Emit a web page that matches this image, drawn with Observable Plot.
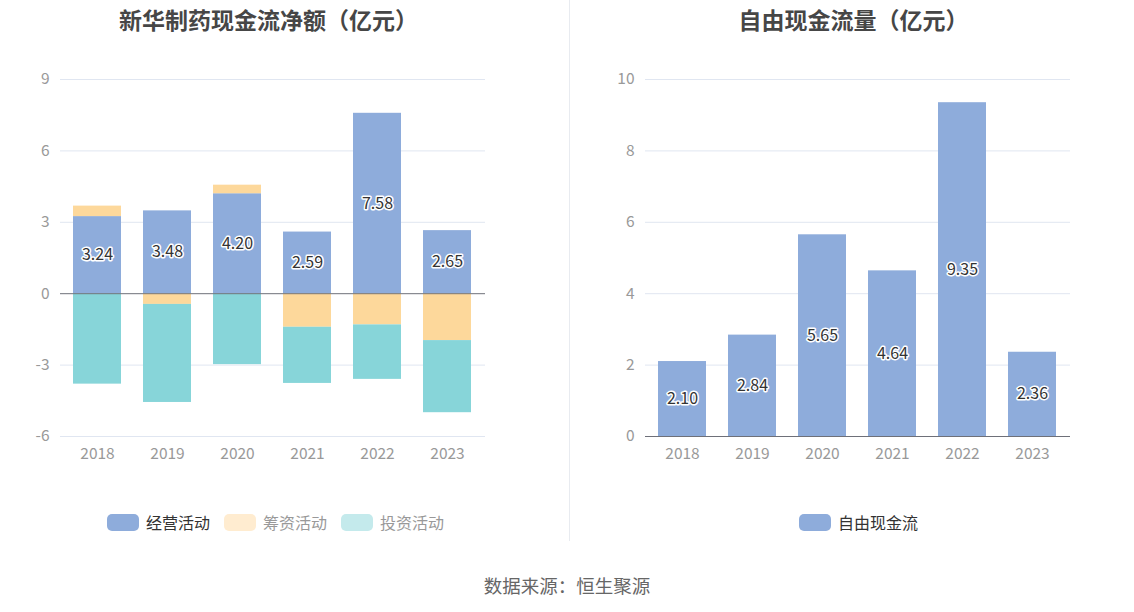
<!DOCTYPE html>
<html><head><meta charset="utf-8">
<script src="https://cdn.jsdelivr.net/npm/d3@7"></script>
<script src="https://cdn.jsdelivr.net/npm/@observablehq/plot@0.6"></script>
<style>
body{margin:0;background:#fff;font-family:"Noto Sans CJK SC","Noto Sans",sans-serif;}
#root{position:relative;width:1134px;height:612px;overflow:hidden;}
.title{position:absolute;top:2px;font-size:23px;font-weight:bold;color:#464646;text-align:center;width:567px;line-height:34px;}
.panel{position:absolute;top:0;}
.legend{position:absolute;top:511px;height:22px;display:flex;align-items:center;font-size:16px;}
.legend .item{display:flex;align-items:center;margin-right:14px;}
.legend .sw{width:32px;height:17px;border-radius:5px;margin-right:7px;}
#divider{position:absolute;left:569px;top:0;width:1px;height:541px;background:#e8ebf0;}
#caption{position:absolute;top:572px;width:1134px;text-align:center;font-size:18.5px;color:#666;line-height:26px;}
</style></head>
<body><div id="root">
<div id="divider"></div>
<div class="title" style="left:-15px">新华制药现金流净额（亿元）</div>
<div class="title" style="left:570px">自由现金流量（亿元）</div>
<div class="panel" id="left" style="left:0"></div>
<div class="panel" id="right" style="left:567px"></div>
<div class="legend" id="legL" style="left:107px"></div>
<div class="legend" id="legR" style="left:799px"></div>
<div id="caption">数据来源：恒生聚源</div>
</div>
<script>
const years = ["2018","2019","2020","2021","2022","2023"];
const seriesNames = ["经营活动","筹资活动","投资活动"];
const operating = [3.24,3.48,4.20,2.59,7.58,2.65];
const financing = [0.44,-0.45,0.36,-1.41,-1.31,-1.97];
const investing = [-3.80,-4.12,-2.98,-2.36,-2.29,-3.03];
const freeCash = [2.10,2.84,5.65,4.64,9.35,2.36];
const leftTicks = [-6,-3,0,3,6,9];
const rightTicks = [0,2,4,6,8,10];
const colors = ["#8eacdb","#fdd89b","#87d5d9"];
const legendSw = ["#8eacdb","#ffecd0","#c4eaec"];
const legendTxt = ["#333","#999","#999"];

const rows = [];
const arrs = [operating, financing, investing];
years.forEach((y,i)=>{ seriesNames.forEach((s,j)=>rows.push({year:y, series:s, value:arrs[j][i]})); });
const opRows = years.map((y,i)=>({year:y, value:operating[i]}));
const fcRows = years.map((y,i)=>({year:y, value:freeCash[i]}));

const common = {
  width:567, height:480,
  style:{fontFamily:'"Noto Sans CJK SC","Noto Sans",sans-serif', fontSize:"15.5px", color:"#999", background:"transparent"},
};
const xScale = {domain:years, paddingInner:0.31, paddingOuter:0.155, label:null};
const fmt = d => String(d);

const left = Plot.plot({
  ...common,
  marginTop:79, marginBottom:44, marginLeft:60, marginRight:82,
  x:xScale,
  y:{domain:[-6,9], label:null},
  color:{domain:seriesNames, range:colors},
  marks:[
    Plot.gridY(leftTicks.filter(t=>t!==0), {stroke:"#e0e6f1", strokeOpacity:1}),
    Plot.barY(rows, Plot.stackY({x:"year", y:"value", fill:"series"})),
    Plot.ruleY([0], {stroke:"#6e7079", strokeWidth:1}),
    Plot.axisY(leftTicks, {tickSize:0, tickPadding:11, label:null, fontSize:15.5, tickFormat:fmt}),
    Plot.axisX({tickSize:0, tickPadding:11, label:null, fontSize:15.5}),
    Plot.text(opRows, {x:"year", y:d=>d.value/2, text:d=>d.value.toFixed(2), fill:"#333", stroke:"white", strokeWidth:3, fontSize:16})
  ]
});
document.getElementById("left").appendChild(left);

const right = Plot.plot({
  ...common,
  marginTop:79, marginBottom:44, marginLeft:78, marginRight:64,
  x:xScale,
  y:{domain:[0,10], label:null},
  marks:[
    Plot.gridY(rightTicks.filter(t=>t!==0), {stroke:"#e0e6f1", strokeOpacity:1}),
    Plot.barY(fcRows, {x:"year", y:"value", fill:colors[0]}),
    Plot.ruleY([0], {stroke:"#6e7079", strokeWidth:1}),
    Plot.axisY(rightTicks, {tickSize:0, tickPadding:11, label:null, fontSize:15.5, tickFormat:fmt}),
    Plot.axisX({tickSize:0, tickPadding:11, label:null, fontSize:15.5}),
    Plot.text(fcRows, {x:"year", y:d=>d.value/2, text:d=>d.value.toFixed(2), fill:"#333", stroke:"white", strokeWidth:3, fontSize:16})
  ]
});
document.getElementById("right").appendChild(right);

const legL = document.getElementById("legL");
seriesNames.forEach((s,i)=>{
  const it=document.createElement("div"); it.className="item";
  it.innerHTML=`<div class="sw" style="background:${legendSw[i]}"></div><span style="color:${legendTxt[i]}">${s}</span>`;
  legL.appendChild(it);
});
const legR = document.getElementById("legR");
const it=document.createElement("div"); it.className="item";
it.innerHTML=`<div class="sw" style="background:${colors[0]}"></div><span style="color:#333">自由现金流</span>`;
legR.appendChild(it);
</script>
</body></html>
